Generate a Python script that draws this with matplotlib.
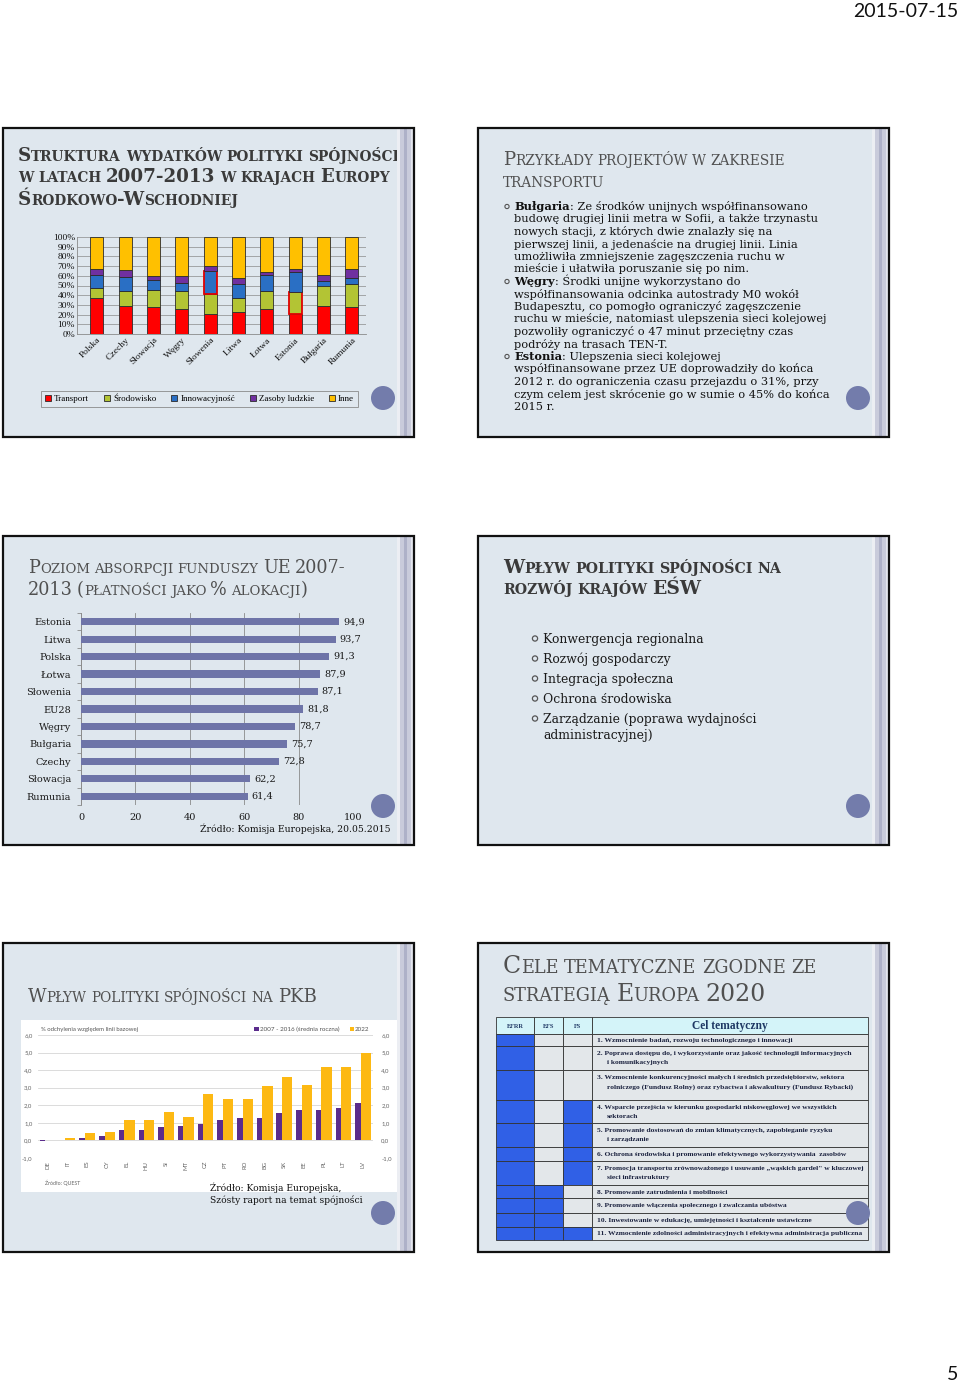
import numpy as np
import matplotlib
matplotlib.use('Agg')
import matplotlib.pyplot as plt
from matplotlib.patches import Rectangle, Circle
from matplotlib.transforms import ScaledTranslation

plt.rcParams['font.family'] = ['Liberation Serif', 'DejaVu Serif']
SERIF = ['DejaVu Serif']

# slide 1 - struktura wydatków (%)
kraje1 = ['Polska', 'Czechy', 'Słowacja', 'Węgry', 'Słowenia', 'Litwa', 'Łotwa', 'Estonia', 'Bułgaria', 'Rumunia']
transport = [37, 29, 28, 26, 21, 23, 26, 21, 29, 28]
srodowisko = [10, 15, 17, 18, 20, 14, 18, 22, 21, 24]
innowacyjnosc = [14, 15, 11, 9, 24, 15, 17, 21, 5, 6]
zasoby = [6, 7, 4, 7, 5, 6, 3, 3, 6, 9]
inne = [33, 34, 40, 40, 30, 42, 36, 33, 39, 33]
segmenty = ['Transport', 'Środowisko', 'Innowacyjność', 'Zasoby ludzkie', 'Inne']

# slide 3 - absorpcja (% alokacji)
kraje3 = ['Estonia', 'Litwa', 'Polska', 'Łotwa', 'Słowenia', 'EU28', 'Węgry', 'Bułgaria', 'Czechy', 'Słowacja', 'Rumunia']
absorpcja = [94.9, 93.7, 91.3, 87.9, 87.1, 81.8, 78.7, 75.7, 72.8, 62.2, 61.4]

# slide 5 - wpływ na PKB
kraje5 = ['DE', 'IT', 'ES', 'CY', 'EL', 'HU', 'SI', 'MT', 'CZ', 'PT', 'RO', 'BG', 'SK', 'EE', 'PL', 'LT', 'LV']
pkb_srednia = [-0.05, 0.03, 0.15, 0.25, 0.57, 0.57, 0.75, 0.82, 0.92, 1.15, 1.3, 1.3, 1.58, 1.72, 1.72, 1.82, 2.12]
pkb_2022 = [0.02, 0.12, 0.4, 0.5, 1.17, 1.17, 1.62, 1.35, 2.63, 2.37, 2.37, 3.1, 3.6, 3.15, 4.2, 4.2, 4.95]

# slide 6 - cele tematyczne
cele = [
    '1. Wzmocnienie badań, rozwoju technologicznego i innowacji',
    '2. Poprawa dostępu do, i wykorzystanie oraz jakość technologii informacyjnych\ni komunikacyjnych',
    '3. Wzmocnienie konkurencyjności małych i średnich przedsiębiorstw, sektora\nrolniczego (Fundusz Rolny) oraz rybactwa i akwakultury (Fundusz Rybacki)',
    '4. Wsparcie przejścia w kierunku gospodarki niskowęglowej we wszystkich\nsektorach',
    '5. Promowanie dostosowań do zmian klimatycznych, zapobieganie ryzyku\ni zarządzanie',
    '6. Ochrona środowiska i promowanie efektywnego wykorzystywania  zasobów',
    '7. Promocja transportu zrównoważonego i usuwanie „wąskich gardeł" w kluczowej\nsieci infrastruktury',
    '8. Promowanie zatrudnienia i mobilności',
    '9. Promowanie włączenia społecznego i zwalczania ubóstwa',
    '10. Inwestowanie w edukację, umiejętności i kształcenie ustawiczne',
    '11. Wzmocnienie zdolności administracyjnych i efektywna administracja publiczna',
]
efrr = [1, 1, 1, 1, 1, 1, 1, 1, 1, 1, 1]
efs = [0, 0, 0, 0, 0, 0, 0, 1, 1, 1, 1]
fs = [0, 0, 0, 1, 1, 1, 1, 0, 0, 0, 1]

transport_txt = [
    ('Bułgaria', [': Ze środków unijnych współfinansowano',
                  'budowę drugiej linii metra w Sofii, a także trzynastu',
                  'nowych stacji, z których dwie znalazły się na',
                  'pierwszej linii, a jedenaście na drugiej linii. Linia',
                  'umożliwiła zmniejszenie zagęszczenia ruchu w',
                  'mieście i ułatwiła poruszanie się po nim.']),
    ('Węgry', [': Środki unijne wykorzystano do',
               'współfinansowania odcinka autostrady M0 wokół',
               'Budapesztu, co pomogło ograniczyć zagęszczenie',
               'ruchu w mieście, natomiast ulepszenia sieci kolejowej',
               'pozwoliły ograniczyć o 47 minut przeciętny czas',
               'podróży na trasach TEN-T.']),
    ('Estonia', [': Ulepszenia sieci kolejowej',
                 'współfinansowane przez UE doprowadziły do końca',
                 '2012 r. do ograniczenia czasu przejazdu o 31%, przy',
                 'czym celem jest skrócenie go w sumie o 45% do końca',
                 '2015 r.']),
]
wplyw_txt = ['Konwergencja regionalna', 'Rozwój gospodarczy', 'Integracja społeczna',
             'Ochrona środowiska', 'Zarządzanie (poprawa wydajności\nadministracyjnej)']

W, H = 960, 1383
BG = '#dfe7ee'

fig = plt.figure(figsize=(W / 100, H / 100), dpi=100)
R = fig.canvas.get_renderer()

bg = fig.add_axes([0, 0, 1, 1])
bg.set_xlim(0, W)
bg.set_ylim(H, 0)
bg.axis('off')


def box(l, t, r, b):
    return [l / W, 1 - b / H, (r - l) / W, (b - t) / H]


def put(x, y, s, **kw):
    t = bg.text(x, y, s, va='baseline', ha='left', **kw)
    return t, t.get_window_extent(R).width


def adv(s, **kw):
    # advance width of s: measured against a reference glyph
    t1, w1 = put(0, 0, s + 'X', **kw)
    t2, w2 = put(0, 0, 'X', **kw)
    t1.remove()
    t2.remove()
    return w1 - w2


def caps_runs(s):
    out = []
    for ch in s:
        k = ' ' if ch == ' ' else ('s' if ch.islower() else 'B')
        if out and out[-1][0] == k:
            out[-1][1] += ch
        else:
            out.append([k, ch])
    return out


def smallcaps(x, y, s, size, ratio=0.75, draw=True, **kw):
    for k, txt in caps_runs(s):
        fsz = size if k == 'B' else size * ratio
        if k != ' ' and draw:
            put(x, y, txt.upper(), fontsize=fsz, **kw)
        x += adv(txt.upper(), fontsize=fsz, **kw)
    return x


def title(x, ys, lines, width, weight='normal', color='#4a4a4a'):
    x1 = smallcaps(x, 0, lines[0], 10, draw=False, fontweight=weight, family=SERIF)
    size = 10 * width / (x1 - x)
    for line, y in zip(lines, ys):
        smallcaps(x, y, line, size, fontweight=weight, color=color, family=SERIF)


def fit_size(s, width, **kw):
    t, w = put(0, 0, s, fontsize=10, **kw)
    t.remove()
    return 10 * width / w


# slides background
slides = [(3, 128), (478, 128), (3, 536), (478, 536), (3, 943), (478, 943)]
SW, SH = 411, 309
for x0, y0 in slides:
    bg.add_patch(Rectangle((x0, y0), SW, SH, facecolor=BG, edgecolor='none', zorder=0))

# ---------- slide 1 ----------
title(18, [161, 182, 205], ['Struktura wydatków polityki spójności',
                            'w latach 2007-2013 w krajach Europy',
                            'Środkowo-Wschodniej'], 380, 'bold', '#3a3a3a')

ax1 = fig.add_axes(box(77, 237, 366, 334), facecolor='none')
xs = np.arange(len(kraje1))
bottom = np.zeros(len(kraje1))
bars = []
for vals, col in zip([transport, srodowisko, innowacyjnosc, zasoby, inne],
                     ['#ff0000', '#b3c434', '#2a6fc4', '#7030a0', '#ffc000']):
    b = ax1.bar(xs, vals, 0.47, bottom=bottom, color=col, edgecolor='#2b2b2b', linewidth=0.6, zorder=3)
    bars.append(b)
    bottom += np.array(vals)
for seg, idx in [(2, 4), (1, 7)]:
    bars[seg][idx].set_edgecolor('#e00000')
    bars[seg][idx].set_linewidth(1.3)
ax1.set_xlim(-0.7, 9.5)
ax1.set_ylim(0, 100)
ax1.set_yticks(range(0, 101, 10))
ax1.set_yticklabels([f'{v}%' for v in range(0, 101, 10)])
ax1.set_xticks(xs)
ax1.set_xticklabels(kraje1, rotation=45, ha='right', va='top', rotation_mode='anchor')
for lbl in ax1.get_xticklabels():
    lbl.set_transform(lbl.get_transform() + ScaledTranslation(0.06, 0, fig.dpi_scale_trans))
ax1.tick_params(length=0, labelsize=6.8, pad=1.5, colors='#111')
ax1.grid(axis='y', color='#8a8a8a', linewidth=0.5)
ax1.set_axisbelow(True)
for s in ['top', 'right']:
    ax1.spines[s].set_visible(False)
for s in ['left', 'bottom']:
    ax1.spines[s].set_color('#8a8a8a')
    ax1.spines[s].set_linewidth(0.6)
leg = ax1.legend(bars, segmenty, ncol=5, mode='expand', loc='center',
                 bbox_to_anchor=(41 / W, 1 - 408 / H, 317 / W, 18 / H), bbox_transform=fig.transFigure,
                 prop={'size': 6.5}, handlelength=0.7, handleheight=0.7, handletextpad=0.3,
                 borderaxespad=0, borderpad=0.45, fancybox=False, edgecolor='#8a8a8a',
                 facecolor=BG, framealpha=1)
leg.get_frame().set_linewidth(0.6)

# ---------- slide 2 ----------
title(503, [165, 187], ['Przykłady projektów w zakresie', 'transportu'], 280, 'normal', '#505050')
fs2 = fit_size('ruchu w mieście, natomiast ulepszenia sieci kolejowej', 313, family=SERIF)
y = 210
for head, lines in transport_txt:
    bg.add_patch(Circle((507, y - 3.5), 2.1, fill=False, edgecolor='#555', linewidth=0.8))
    put(514, y, head, fontsize=fs2, fontweight='bold', family=SERIF, color='#111')
    w = adv(head, fontsize=fs2, fontweight='bold', family=SERIF)
    put(514 + w, y, lines[0], fontsize=fs2, family=SERIF, color='#111')
    y += 12.5
    for line in lines[1:]:
        put(514, y, line, fontsize=fs2, family=SERIF, color='#111')
        y += 12.5

# ---------- slide 3 ----------
title(28, [573, 595], ['Poziom absorpcji funduszy UE 2007-', '2013 (płatności jako % alokacji)'],
      315, 'normal', '#505050')
ax3 = fig.add_axes(box(81, 613, 353, 805), facecolor='none')
y3 = np.arange(len(kraje3))
ax3.barh(y3, absorpcja, 0.42, color='#6e74a8', zorder=3)
for i, v in enumerate(absorpcja):
    ax3.text(v + 1.4, i, f'{v:.1f}'.replace('.', ','), va='center', ha='left',
             fontsize=7, family=SERIF, color='#1a1a1a')
ax3.set_ylim(len(kraje3) - 0.5, -0.5)
ax3.set_xlim(0, 100)
ax3.set_xticks(range(0, 101, 20))
ax3.set_yticks(y3)
ax3.set_yticklabels(kraje3)
ax3.set_yticks(np.arange(-0.5, len(kraje3), 1), minor=True)
ax3.tick_params(axis='y', which='major', length=0, pad=7)
ax3.tick_params(axis='y', which='minor', length=3, color='#8a8a8a', width=0.6)
ax3.tick_params(axis='x', length=0, pad=6)
for lbl in ax3.get_xticklabels() + ax3.get_yticklabels():
    lbl.set_family(SERIF)
    lbl.set_fontsize(7)
    lbl.set_color('#1a1a1a')
ax3.grid(axis='x', color='#8a8a8a', linewidth=0.6)
ax3.set_axisbelow(True)
for s in ['top', 'right', 'bottom']:
    ax3.spines[s].set_visible(False)
ax3.spines['left'].set_color('#8a8a8a')
ax3.spines['left'].set_linewidth(0.6)
fs3 = fit_size('Źródło: Komisja Europejska, 20.05.2015', 188, family=SERIF)
put(200, 832, 'Źródło: Komisja Europejska, 20.05.2015', fontsize=fs3, family=SERIF, color='#111')

# ---------- slide 4 ----------
title(503, [573, 594], ['Wpływ polityki spójności na', 'rozwój krajów EŚW'], 277, 'bold', '#3a3a3a')
fs4 = fit_size(wplyw_txt[0], 162, family=SERIF)
y = 643
for item in wplyw_txt:
    bg.add_patch(Circle((535, y - 4.5), 2.6, fill=False, edgecolor='#555', linewidth=0.9))
    for k, line in enumerate(item.split('\n')):
        put(543, y + k * 16.5, line, fontsize=fs4, family=SERIF, color='#1a1a1a')
    y += 20

# ---------- slide 5 ----------
title(28, [1002], ['Wpływ polityki spójności na PKB'], 287, 'normal', '#505050')
bg.add_patch(Rectangle((21, 1020), 377, 172, facecolor='white', edgecolor='none', zorder=1))
ax5 = fig.add_axes(box(38, 1035, 373, 1158), facecolor='none')
x5 = np.arange(len(kraje5))
b1 = ax5.bar(x5 - 0.40, pkb_srednia, 0.28, align='edge', color='#5b2c8c', zorder=3)
b2 = ax5.bar(x5 - 0.12, pkb_2022, 0.52, align='edge', color='#fdb913', zorder=3)
ax5.set_xlim(-0.5, len(kraje5) - 0.5)
ax5.set_ylim(-1, 6)
yt = list(range(-1, 7))
ax5.set_yticks(yt)
ax5.set_yticklabels([f'{v},0' for v in yt])
ax5.set_xticks(x5)
ax5.set_xticklabels(kraje5, rotation=90, va='top')
ax5.tick_params(length=0, labelsize=4.3, colors='#666', pad=4)
ax5.tick_params(axis='x', pad=2)
ax5.grid(axis='y', color='#d6d6d6', linewidth=0.6)
ax5.set_axisbelow(True)
for s in ax5.spines.values():
    s.set_visible(False)
ax5r = ax5.twinx()
ax5r.set_ylim(-1, 6)
ax5r.set_yticks(yt)
ax5r.set_yticklabels([f'{v},0' for v in yt])
ax5r.tick_params(length=0, labelsize=4.3, colors='#666', pad=6)
for s in ax5r.spines.values():
    s.set_visible(False)
for lbl in ax5.get_xticklabels() + ax5.get_yticklabels() + ax5r.get_yticklabels():
    lbl.set_family('Lato')
ax5.text(0.01, 1.045, '% odchylenia względem linii bazowej', transform=ax5.transAxes,
         fontsize=4.3, family='Lato', color='#555', va='center')
lg5 = ax5.legend([b1, b2], ['2007 - 2016 (średnia roczna)', '2022'], ncol=2, loc='center right',
                 bbox_to_anchor=(0.99, 1.045), frameon=False, prop={'family': 'Lato', 'size': 4.5},
                 handlelength=0.7, handleheight=0.7, handletextpad=0.2, columnspacing=1.6,
                 borderpad=0, borderaxespad=0)
for t in lg5.get_texts():
    t.set_color('#555')
put(45, 1185, 'Źródło: QUEST', fontsize=3.8, family='Lato', color='#666', zorder=2)
fs5 = fit_size('Szósty raport na temat spójności', 153, family=SERIF)
put(210, 1191, 'Źródło: Komisja Europejska,', fontsize=fs5, family=SERIF, color='#111', zorder=3)
put(210, 1203, 'Szósty raport na temat spójności', fontsize=fs5, family=SERIF, color='#111', zorder=3)

# ---------- slide 6 ----------
title(503, [973, 1001], ['Cele tematyczne zgodne ze', 'strategią Europa 2020'], 312, 'normal', '#505050')
tx = [496, 534, 563, 592, 868]
row_h = [12, 24, 30, 23, 24, 14, 24, 13, 15, 14, 13]
ty, hh = 1017, 17
BLUE, GRAY, NAVY = '#3060e6', '#e3e7ea', '#1f3864'
for j, lab in enumerate(['EFRR', 'EFS', 'FS', 'Cel tematyczny']):
    bg.add_patch(Rectangle((tx[j], ty), tx[j + 1] - tx[j], hh, facecolor='#d4f4f9',
                           edgecolor='#333', linewidth=0.6, zorder=2))
    bg.text((tx[j] + tx[j + 1]) / 2, ty + hh / 2 + 0.5, lab, ha='center', va='center',
            fontsize=4.6 if j < 3 else 8.3, fontweight='bold', color=NAVY, zorder=3)
fs6 = fit_size(cele[-1], 265, fontweight='bold')
y = ty + hh
for i, txt in enumerate(cele):
    h = row_h[i]
    for j, flag in enumerate([efrr[i], efs[i], fs[i]]):
        bg.add_patch(Rectangle((tx[j], y), tx[j + 1] - tx[j], h, facecolor=BLUE if flag else GRAY,
                               edgecolor='#333', linewidth=0.6, zorder=2))
    bg.add_patch(Rectangle((tx[3], y), tx[4] - tx[3], h, facecolor=GRAY,
                           edgecolor='#333', linewidth=0.6, zorder=2))
    lines = txt.split('\n')
    pos = [y + h / 2] if len(lines) == 1 else [y + 7, y + 16.3]
    for k, (line, yy) in enumerate(zip(lines, pos)):
        bg.text(597 + (10 if k else 0), yy + 0.5, line, va='center', ha='left', fontsize=fs6,
                fontweight='bold', color='#1c2340', zorder=3)
    y += h

# header / footer
bg.text(958, 17, '2015-07-15', ha='right', va='baseline', fontsize=14, family='Lato', color='#111')
bg.text(958, 1380, '5', ha='right', va='baseline', fontsize=14, family='Lato', color='#111')

# frames, stripes and circles on top
top = fig.add_axes([0, 0, 1, 1], zorder=10)
top.set_xlim(0, W)
top.set_ylim(H, 0)
top.axis('off')
for x0, y0 in slides:
    for dx, w, c in [(394, 3, '#eceef3'), (397, 4, '#c9cbdb'), (401, 3, '#aeb1c8'),
                     (404, 4, '#c9cbdb'), (408, 3, '#e4e6ee')]:
        top.add_patch(Rectangle((x0 + dx, y0), w, SH, facecolor=c, edgecolor='none'))
    top.add_patch(Rectangle((x0, y0), SW, SH, fill=False, edgecolor='#111', linewidth=1.6))
    top.add_patch(Circle((x0 + 380, y0 + 270), 12, facecolor='#737cab', edgecolor='none'))

fig.savefig('out.png', dpi=100)
